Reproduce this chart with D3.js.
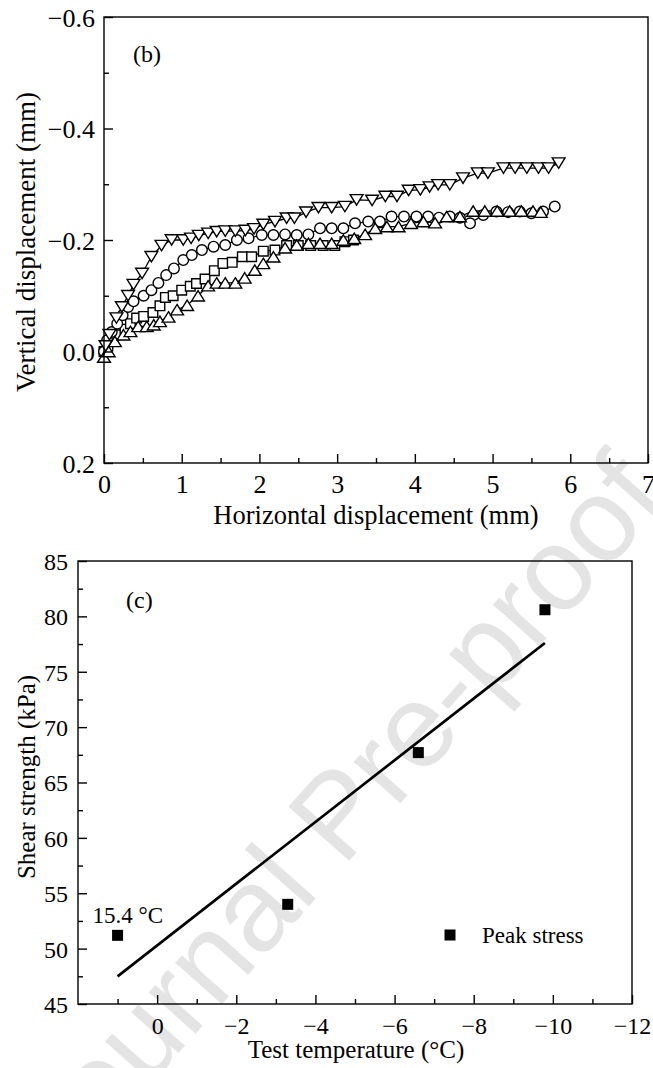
<!DOCTYPE html>
<html>
<head>
<meta charset="utf-8">
<script src="https://cdn.jsdelivr.net/npm/d3@7"></script>
<style>
  html, body { margin: 0; padding: 0; background: #fff; }
  svg { display: block; font-family: "Liberation Serif", "Times New Roman", serif; }
</style>
</head>
<body>
<svg id="fig" width="653" height="1068"></svg>
<script>
// ---------- Panel (b): vertical vs horizontal displacement (mm) ----------
const seriesDown = [[0.02,-0.01],[0.07,-0.03],[0.16,-0.06],[0.23,-0.08],[0.31,-0.10],[0.38,-0.12],[0.49,-0.14],[0.61,-0.17],[0.74,-0.19],[0.87,-0.20],
  [1.02,-0.20],[1.12,-0.203],[1.22,-0.208],[1.34,-0.212],[1.45,-0.215],[1.56,-0.216],[1.69,-0.216],[1.82,-0.217],[1.93,-0.22],
  [2.05,-0.228],[2.20,-0.233],[2.35,-0.239],[2.45,-0.239],[2.60,-0.25],[2.76,-0.258],[2.93,-0.258],[3.10,-0.26],
  [3.25,-0.272],[3.45,-0.271],[3.62,-0.278],[3.77,-0.278],[3.92,-0.289],[4.07,-0.29],[4.19,-0.295],[4.30,-0.299],[4.45,-0.299],[4.62,-0.311],
  [4.81,-0.32],[4.94,-0.32],[5.14,-0.329],[5.29,-0.329],[5.44,-0.329],[5.59,-0.329],[5.72,-0.329],[5.85,-0.338]];

const seriesCircle = [[0.00,0.00],[0.04,-0.02],[0.10,-0.035],[0.17,-0.05],[0.24,-0.065],[0.31,-0.08],[0.38,-0.09],[0.51,-0.10],[0.61,-0.11],[0.70,-0.123],
  [0.80,-0.137],[0.90,-0.149],[1.02,-0.164],[1.13,-0.173],[1.26,-0.182],[1.41,-0.188],[1.56,-0.191],[1.71,-0.20],[1.86,-0.203],[2.03,-0.209],
  [2.18,-0.209],[2.33,-0.21],[2.48,-0.209],[2.63,-0.21],[2.78,-0.221],[2.93,-0.221],[3.08,-0.221],[3.23,-0.23],[3.40,-0.233],[3.55,-0.233],
  [3.70,-0.242],[3.86,-0.242],[4.02,-0.242],[4.17,-0.242],[4.31,-0.24],[4.45,-0.242],[4.58,-0.24],[4.71,-0.23],[4.88,-0.245],[5.05,-0.251],
  [5.20,-0.25],[5.35,-0.251],[5.50,-0.248],[5.65,-0.251],[5.80,-0.26]];

const seriesSquare = [[0.00,0.00],[0.05,-0.01],[0.12,-0.02],[0.20,-0.03],[0.27,-0.04],[0.34,-0.05],[0.42,-0.06],[0.51,-0.063],[0.63,-0.07],[0.72,-0.082],
  [0.79,-0.097],[0.89,-0.10],[1.00,-0.11],[1.11,-0.117],[1.19,-0.122],[1.30,-0.13],[1.42,-0.145],[1.53,-0.158],[1.65,-0.16],[1.78,-0.17],
  [1.90,-0.17],[2.05,-0.18],[2.20,-0.182],[2.35,-0.19],[2.50,-0.19],[2.66,-0.19],[2.82,-0.19],[2.97,-0.19],[3.10,-0.197],[3.21,-0.20]];

const seriesUp = [[0.00,0.01],[0.06,0.00],[0.14,-0.018],[0.25,-0.03],[0.34,-0.036],[0.44,-0.045],[0.55,-0.045],[0.64,-0.048],[0.72,-0.054],[0.83,-0.062],
  [0.94,-0.075],[1.07,-0.083],[1.21,-0.10],[1.34,-0.118],[1.45,-0.123],[1.56,-0.123],[1.69,-0.123],[1.81,-0.132],[1.94,-0.146],[2.05,-0.158],
  [2.18,-0.17],[2.33,-0.186],[2.48,-0.191],[2.63,-0.194],[2.78,-0.194],[2.93,-0.194],[3.08,-0.2],[3.22,-0.203],[3.36,-0.21],[3.49,-0.221],
  [3.64,-0.224],[3.79,-0.224],[3.95,-0.23],[4.11,-0.233],[4.26,-0.231],[4.41,-0.242],[4.58,-0.242],[4.75,-0.252],[4.90,-0.252],[5.06,-0.252],
  [5.22,-0.252],[5.37,-0.252],[5.52,-0.252],[5.62,-0.25]];

const dispXMajor = [0, 1, 2, 3, 4, 5, 6, 7];
const dispXMinor = [0.5, 1.5, 2.5, 3.5, 4.5, 5.5, 6.5];
const dispYMajor = [-0.6, -0.4, -0.2, 0.0, 0.2];
const dispYMinor = [-0.5, -0.3, -0.1, 0.1];

// ---------- Panel (c): shear strength vs test temperature ----------
const tempPos = [1, -3.3, -6.6, -9.8];          // first point is the 15.4 °C reference test
const peakStress = [51.2, 54.0, 67.7, 80.6];
const fitLine = [[1, 47.5], [-9.8, 77.6]];
const tempMajor = [0, -2, -4, -6, -8, -10, -12];
const tempMinor = [1, -1, -3, -5, -7, -9, -11];
const stressMajor = [45, 50, 55, 60, 65, 70, 75, 80, 85];
const stressMinor = [47.5, 52.5, 57.5, 62.5, 67.5, 72.5, 77.5, 82.5];

const svg = d3.select("#fig");

// Faint diagonal watermark behind the plots
svg.append("text")
  .attr("transform", "translate(64,1182) rotate(-48.4)")
  .attr("text-anchor", "start")
  .style("font-family", "'Liberation Sans', Arial, sans-serif")
  .style("font-size", "118px")
  .attr("fill", "#e4e4e4")
  .text("Journal Pre-proof");

function frame(g, x, y) {
  const [x0, x1] = x.range(), [y0, y1] = y.range();
  g.append("rect")
    .attr("x", Math.min(x0, x1)).attr("y", Math.min(y0, y1))
    .attr("width", Math.abs(x1 - x0)).attr("height", Math.abs(y1 - y0))
    .attr("fill", "none").attr("stroke", "#000").attr("stroke-width", 1.4);
}

function axes(g, x, y, o) {
  const yBase = Math.max(...y.range());
  const xLeft = Math.min(...x.range());
  // bottom major + minor ticks pointing inward
  const bx = g.append("g").attr("transform", `translate(0,${yBase})`)
    .call(d3.axisBottom(x).tickValues(o.xMajor).tickSizeInner(-o.major).tickSizeOuter(0).tickFormat(o.xFmt));
  bx.select(".domain").remove();
  bx.selectAll("text").attr("y", o.xLabelY).attr("dy", null);
  const bxm = g.append("g").attr("transform", `translate(0,${yBase})`)
    .call(d3.axisBottom(x).tickValues(o.xMinor).tickSizeInner(-o.minor).tickSizeOuter(0).tickFormat(""));
  bxm.select(".domain").remove();
  // left major + minor ticks pointing inward
  const ly = g.append("g").attr("transform", `translate(${xLeft},0)`)
    .call(d3.axisLeft(y).tickValues(o.yMajor).tickSizeInner(-o.major).tickSizeOuter(0).tickFormat(o.yFmt));
  ly.select(".domain").remove();
  ly.selectAll("text").attr("x", -o.yLabelGap).attr("dy", "0.35em");
  const lym = g.append("g").attr("transform", `translate(${xLeft},0)`)
    .call(d3.axisLeft(y).tickValues(o.yMinor).tickSizeInner(-o.minor).tickSizeOuter(0).tickFormat(""));
  lym.select(".domain").remove();
  g.selectAll(".tick line").attr("stroke", "#000").attr("stroke-width", 1.4);
  g.selectAll(".tick text").attr("fill", "#000")
    .style("font-family", "'Liberation Serif', 'Times New Roman', serif")
    .style("font-size", o.tickFont + "px");
  g.selectAll("g").attr("font-family", null).attr("font-size", null);
}

// ---------- draw panel (b) ----------
const xb = d3.scaleLinear().domain([0, 7]).range([104, 648]);
const yb = d3.scaleLinear().domain([-0.6, 0.2]).range([17, 463]);
const gb = svg.append("g");

const lineB = d3.line().x(d => xb(d[0])).y(d => yb(d[1]));
const allSeries = [
  { data: seriesSquare, shape: "square" },
  { data: seriesCircle, shape: "circle" },
  { data: seriesUp, shape: "up" },
  { data: seriesDown, shape: "down" }
];
allSeries.forEach(s => {
  gb.append("path").attr("d", lineB(s.data))
    .attr("fill", "none").attr("stroke", "#000").attr("stroke-width", 1.3);
});
const markerPath = {
  up: "M0,-5.2L6.4,5.2L-6.4,5.2Z",
  down: "M0,5.2L6.4,-5.2L-6.4,-5.2Z",
  square: "M-4.8,-4.8H4.8V4.8H-4.8Z"
};
allSeries.forEach(s => {
  const sel = gb.append("g").selectAll("g.m").data(s.data).join("g")
    .attr("transform", d => `translate(${xb(d[0])},${yb(d[1])})`);
  if (s.shape === "circle") {
    sel.append("circle").attr("r", 5.3);
  } else {
    sel.append("path").attr("d", markerPath[s.shape]);
  }
  sel.selectAll("circle,path").attr("fill", "#fff").attr("stroke", "#000").attr("stroke-width", 1.4);
});

frame(gb, xb, yb);
axes(gb, xb, yb, {
  xMajor: dispXMajor, xMinor: dispXMinor, yMajor: dispYMajor, yMinor: dispYMinor,
  major: 9, minor: 5, xFmt: d3.format("d"), yFmt: d3.format(".1f"),
  xLabelY: 30, yLabelGap: 9, tickFont: 26
});

gb.append("text").attr("x", 133).attr("y", 62).style("font-size", "24px").text("(b)");
gb.append("text").attr("x", 376).attr("y", 524).attr("text-anchor", "middle")
  .style("font-size", "26.5px").text("Horizontal displacement (mm)");
gb.append("text").attr("transform", "translate(35,242) rotate(-90)").attr("text-anchor", "middle")
  .style("font-size", "27px").text("Vertical displacement (mm)");

// ---------- draw panel (c) ----------
const xc = d3.scaleLinear().domain([2, -12]).range([78, 632]);
const yc = d3.scaleLinear().domain([45, 85]).range([1004, 561]);
const gc = svg.append("g");

gc.append("path")
  .attr("d", d3.line().x(d => xc(d[0])).y(d => yc(d[1]))(fitLine))
  .attr("fill", "none").attr("stroke", "#000").attr("stroke-width", 2.7);

gc.append("g").selectAll("rect").data(tempPos).join("rect")
  .attr("x", d => xc(d) - 5.5).attr("y", (d, i) => yc(peakStress[i]) - 5.5)
  .attr("width", 11).attr("height", 11).attr("fill", "#000");

frame(gc, xc, yc);
axes(gc, xc, yc, {
  xMajor: tempMajor, xMinor: tempMinor, yMajor: stressMajor, yMinor: stressMinor,
  major: 9, minor: 5, xFmt: d3.format("d"), yFmt: d3.format("d"),
  xLabelY: 30, yLabelGap: 10, tickFont: 24
});

gc.append("text").attr("x", 126).attr("y", 608).style("font-size", "24px").text("(c)");
gc.append("text").attr("x", xc(tempPos[0]) - 25).attr("y", 923)
  .style("font-size", "23px").text("15.4 °C");

// legend
gc.append("rect").attr("x", 444.5).attr("y", 929.5).attr("width", 11).attr("height", 11).attr("fill", "#000");
gc.append("text").attr("x", 482).attr("y", 943).style("font-size", "23px").text("Peak stress");

gc.append("text").attr("x", 356).attr("y", 1058).attr("text-anchor", "middle")
  .style("font-size", "25px").text("Test temperature (°C)");
gc.append("text").attr("transform", "translate(35,777) rotate(-90)").attr("text-anchor", "middle")
  .style("font-size", "25px").text("Shear strength (kPa)");
</script>
</body>
</html>
